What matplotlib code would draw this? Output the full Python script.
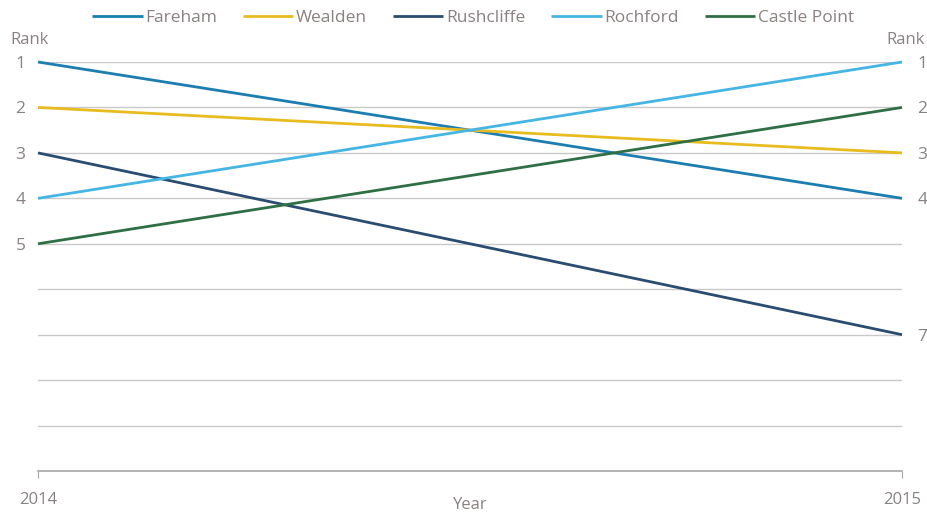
import matplotlib.pyplot as plt

plt.rcParams['font.family'] = ['Open Sans', 'DejaVu Sans']

years = [2014, 2015]
councils = ['Fareham', 'Wealden', 'Rushcliffe', 'Rochford', 'Castle Point']
rank_2014 = [1, 2, 3, 4, 5]
rank_2015 = [4, 3, 7, 1, 2]
colours = ['#1b7db0', '#e8bb1e', '#2a4c70', '#45b5e3', '#2f6f45']

txt = '#8a8181'

fig = plt.figure(figsize=(9.28, 5.15), dpi=100)
ax = fig.add_axes([38/928, 44/515, 864/928, 409/515])

for name, r0, r1, c in zip(councils, rank_2014, rank_2015, colours):
	ax.plot(years, [r0, r1], color=c, lw=2.0, label=name, clip_on=False, solid_capstyle='butt')

ax.set_xlim(2014, 2015)
ax.set_ylim(10, 1)
for r in range(1, 10):
	ax.axhline(r, color='#c9c9c9', lw=1.0, zorder=0)

for s in ['top', 'left', 'right']:
	ax.spines[s].set_visible(False)
ax.spines['bottom'].set_color('#a6a6a6')
ax.spines['bottom'].set_linewidth(1.2)

ax.set_xticks(years)
ax.set_xticklabels([str(y) for y in years], color=txt, fontsize=12)
ax.tick_params(axis='x', length=5, color='#a6a6a6', pad=10)
ax.set_xlabel('Year', color=txt, fontsize=12, labelpad=-8)

ax.set_yticks(rank_2014)
ax.set_yticklabels([str(r) for r in rank_2014], color=txt, fontsize=12.5)
ax.tick_params(axis='y', length=0, pad=9)

ax2 = ax.twinx()
ax2.set_ylim(10, 1)
for s in ax2.spines.values():
	s.set_visible(False)
ax2.set_yticks(sorted(rank_2015))
ax2.set_yticklabels([str(r) for r in sorted(rank_2015)], color=txt, fontsize=12.5)
ax2.tick_params(axis='y', length=0, pad=11)

fig.text(30/928, 1 - 40/515, 'Rank', color=txt, fontsize=12, ha='center', va='center')
fig.text(906/928, 1 - 40/515, 'Rank', color=txt, fontsize=12, ha='center', va='center')

ax.legend(loc='center', bbox_to_anchor=(473/928, 1 - 18/515), bbox_transform=fig.transFigure,
	ncol=5, frameon=False, fontsize=12.5, labelcolor=txt, handlelength=2.9, handletextpad=0.15,
	columnspacing=1.5)

plt.savefig('out.png', dpi=100)
